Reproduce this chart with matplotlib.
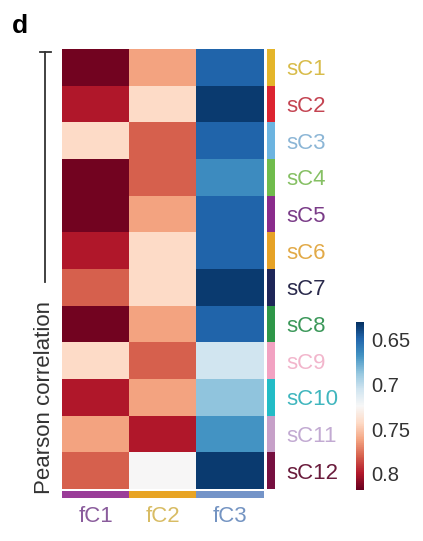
import numpy as np
import matplotlib as mpl
mpl.use('Agg')
import matplotlib.pyplot as plt
from matplotlib.colors import ListedColormap, Normalize

plt.rcParams['font.family'] = ['Liberation Sans', 'DejaVu Sans']

row_labels = ['sC1', 'sC2', 'sC3', 'sC4', 'sC5', 'sC6',
              'sC7', 'sC8', 'sC9', 'sC10', 'sC11', 'sC12']
col_labels = ['fC1', 'fC2', 'fC3']

# pearson correlation per row (sC) and column (fC1, fC2, fC3)
fc1 = [0.815, 0.799, 0.743, 0.815, 0.815, 0.799, 0.780, 0.815, 0.743, 0.799, 0.762, 0.780]
fc2 = [0.762, 0.743, 0.780, 0.780, 0.762, 0.743, 0.743, 0.762, 0.780, 0.762, 0.799, 0.724]
fc3 = [0.649, 0.634, 0.649, 0.665, 0.649, 0.649, 0.634, 0.649, 0.705, 0.686, 0.668, 0.634]

row_bar_colors = ['#e4b52a', '#dc2430', '#6cb4e0', '#70bc4c', '#8a2c8c', '#e6a226',
                  '#1e2658', '#2e9648', '#f2a2c2', '#22bcc6', '#c6a0c8', '#761040']
row_text_colors = ['#d8bc4a', '#c44452', '#8cb6d6', '#86c064', '#7a3c88', '#e2aa48',
                   '#2a2a4c', '#3c985a', '#f2b6cc', '#40b6be', '#c2aad2', '#6a1c3c']
col_bar_colors = ['#9a3c98', '#e8a424', '#7494c8']
col_text_colors = ['#8a5c9c', '#d8bc64', '#7494c2']

cbar_ticks = [0.65, 0.7, 0.75, 0.8]
vmin, vmax = 0.63, 0.818

data = np.array([fc1, fc2, fc3]).T

fig = plt.figure(figsize=(4.23, 5.41), dpi=100)
W, H = 423, 541

def px_axes(x0, y0, x1, y1):
    return fig.add_axes([x0 / W, 1 - y1 / H, (x1 - x0) / W, (y1 - y0) / H])

ax = px_axes(62, 49, 263, 489)
norm = Normalize(vmin=vmin, vmax=vmax)
im = ax.imshow(data, cmap='RdBu_r', norm=norm, aspect='auto', interpolation='nearest')
ax.set_xticks([])
ax.set_yticks([])
for s in ax.spines.values():
    s.set_visible(False)

# row colour strip + labels
rax = px_axes(267, 49, 275, 489)
rax.imshow(np.arange(len(row_labels)).reshape(-1, 1), cmap=ListedColormap(row_bar_colors),
           aspect='auto', interpolation='nearest')
rax.set_xticks([])
rax.set_yticks(range(len(row_labels)))
rax.yaxis.tick_right()
rax.set_yticklabels(row_labels, fontsize=16)
rax.tick_params(axis='y', length=0, pad=8)
for lab, c in zip(rax.get_yticklabels(), row_text_colors):
    lab.set_color(c)
for s in rax.spines.values():
    s.set_visible(False)

# column colour strip + labels
cax2 = px_axes(62, 491, 263, 498)
cax2.imshow(np.arange(len(col_labels)).reshape(1, -1), cmap=ListedColormap(col_bar_colors),
            aspect='auto', interpolation='nearest')
cax2.set_yticks([])
cax2.set_xticks(range(len(col_labels)))
cax2.set_xticklabels(col_labels, fontsize=16)
cax2.tick_params(axis='x', length=0, pad=6)
for lab, c in zip(cax2.get_xticklabels(), col_text_colors):
    lab.set_color(c)
for s in cax2.spines.values():
    s.set_visible(False)

# colorbar
cbax = px_axes(356, 322, 364, 490)
cb = fig.colorbar(im, cax=cbax, ticks=cbar_ticks)
cb.ax.invert_yaxis()
cb.outline.set_visible(False)
cb.ax.set_yticklabels(['0.65', '0.7', '0.75', '0.8'], fontsize=14.5, color='#333333')
cb.ax.tick_params(length=0, pad=5)

# pearson correlation bracket
fig.add_artist(plt.Line2D([45 / W, 45 / W], [1 - 52 / H, 1 - 282 / H], color='#333333', lw=1.3))
fig.add_artist(plt.Line2D([40 / W, 51 / W], [1 - 52 / H, 1 - 52 / H], color='#333333', lw=1.3))
fig.text(44 / W, 1 - 398 / H, 'Pearson correlation', rotation=90, fontsize=16,
         ha='center', va='center', color='#333333')

fig.text(12 / W, 1 - 14 / H, 'd', fontsize=19, fontweight='bold', ha='left', va='top')

fig.savefig('out.png', dpi=100)
